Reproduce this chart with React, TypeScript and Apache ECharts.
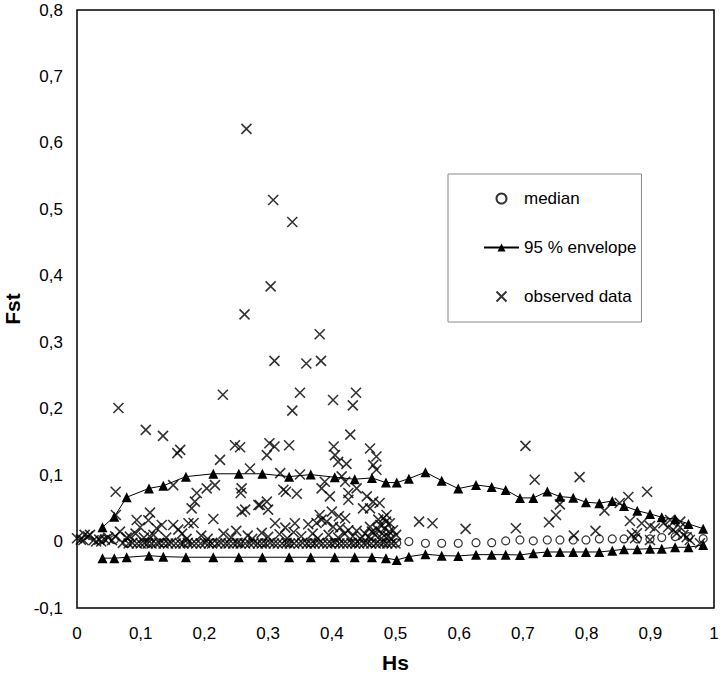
import React, { useEffect, useRef } from "react";
import * as echarts from "echarts";

const FONT = "'Liberation Sans', Arial, sans-serif";

const xTickLabels = ["0", "0,1", "0,2", "0,3", "0,4", "0,5", "0,6", "0,7", "0,8", "0,9", "1"];
const yTickLabels = ["-0,1", "0", "0,1", "0,2", "0,3", "0,4", "0,5", "0,6", "0,7", "0,8"];

const envHs = [
  0.040, 0.0586, 0.078, 0.113, 0.1355, 0.171, 0.214, 0.254, 0.291, 0.333,
  0.367, 0.4046, 0.436, 0.463, 0.485, 0.502, 0.521, 0.547, 0.5725, 0.5985,
  0.6264, 0.651, 0.673, 0.6954, 0.7163, 0.7383, 0.7582, 0.779, 0.799, 0.82,
  0.8403, 0.8587, 0.8796, 0.8995, 0.918, 0.939, 0.960, 0.983,
];
const envUpper = [
  0.0215, 0.0375, 0.0667, 0.080, 0.084, 0.0977, 0.102, 0.102, 0.102, 0.0977,
  0.1008, 0.0968, 0.0938, 0.0958, 0.0887, 0.0887, 0.0947, 0.1044, 0.0917, 0.0797,
  0.0852, 0.0822, 0.0777, 0.0657, 0.0657, 0.0752, 0.0676, 0.0661, 0.0592, 0.0577,
  0.0611, 0.0536, 0.0465, 0.0416, 0.0366, 0.0336, 0.0265, 0.0194,
];
const envLower = [
  -0.025, -0.025, -0.0237, -0.0212, -0.0227, -0.0236, -0.0236, -0.0236, -0.0236, -0.0236,
  -0.0236, -0.0236, -0.0236, -0.0236, -0.025, -0.0277, -0.0227, -0.019, -0.0212, -0.0217,
  -0.0197, -0.0197, -0.0197, -0.0202, -0.0176, -0.0157, -0.0157, -0.0157, -0.0157, -0.0157,
  -0.0137, -0.0116, -0.0116, -0.0107, -0.0107, -0.0086, -0.0086, -0.0051,
];
const medianFst = [
  0.004, 0.003, -0.002, -0.002, -0.002, -0.002, -0.002, -0.002, -0.002, -0.002,
  -0.002, -0.002, -0.002, -0.002, -0.002, -0.002, 0.0, -0.0026, -0.0026, -0.0026,
  -0.0017, -0.0017, 0.001, 0.0024, 0.001, 0.0024, 0.0024, 0.0024, 0.0024, 0.004,
  0.004, 0.004, 0.004, 0.004, 0.006, 0.0074, 0.0074, 0.0044,
];

// observed data [Hs, Fst]
const observedHigh: [number, number][] = [
  [0.266, 0.621], [0.308, 0.514], [0.338, 0.481], [0.304, 0.384], [0.263, 0.342],
  [0.381, 0.312], [0.31, 0.272], [0.36, 0.268], [0.383, 0.272], [0.229, 0.221],
  [0.35, 0.224], [0.338, 0.197], [0.402, 0.213], [0.438, 0.224], [0.433, 0.205],
  [0.429, 0.161], [0.065, 0.201], [0.108, 0.168], [0.135, 0.159], [0.162, 0.138],
  [0.248, 0.145], [0.256, 0.142], [0.302, 0.148], [0.31, 0.143], [0.333, 0.145],
  [0.403, 0.143], [0.46, 0.14], [0.298, 0.13], [0.405, 0.13], [0.41, 0.12],
  [0.423, 0.117], [0.47, 0.128], [0.465, 0.115], [0.47, 0.108], [0.1575, 0.133],
  [0.2245, 0.123], [0.2716, 0.11], [0.704, 0.144],
];
const observedMid: [number, number][] = [
  [0.319, 0.103], [0.35, 0.101], [0.384, 0.08], [0.389, 0.09], [0.397, 0.068],
  [0.324, 0.078], [0.328, 0.075], [0.345, 0.072], [0.4155, 0.098], [0.421, 0.09],
  [0.439, 0.08], [0.426, 0.073], [0.426, 0.063], [0.455, 0.068], [0.465, 0.06],
  [0.475, 0.058], [0.449, 0.05], [0.46, 0.05], [0.298, 0.06], [0.3, 0.048],
  [0.287, 0.055], [0.4, 0.045], [0.411, 0.038], [0.421, 0.035], [0.381, 0.04],
  [0.384, 0.033], [0.0607, 0.075], [0.151, 0.085], [0.2036, 0.08], [0.2166, 0.085],
  [0.188, 0.073], [0.185, 0.06], [0.18, 0.05], [0.2585, 0.08], [0.257, 0.073],
  [0.2585, 0.045], [0.264, 0.048], [0.2846, 0.055], [0.214, 0.034], [0.1146, 0.0435],
  [0.061, 0.04], [0.0937, 0.0325], [0.112, 0.032], [0.099, 0.0215], [0.125, 0.02],
  [0.133, 0.025], [0.151, 0.025], [0.159, 0.018], [0.175, 0.0275], [0.183, 0.028],
  [0.0675, 0.015], [0.0204, 0.01], [0.01, 0.0024], [0.03, 0.0], [0.035, 0.003],
  [0.044, 0.003], [0.049, 0.006], [0.083, 0.0074], [0.114, 0.008],
  [0.311, 0.0275], [0.327, 0.021], [0.342, 0.0275], [0.363, 0.026], [0.376, 0.028],
  [0.392, 0.03], [0.402, 0.022], [0.413, 0.021], [0.426, 0.017], [0.439, 0.016],
  [0.46, 0.022], [0.473, 0.033], [0.481, 0.035], [0.486, 0.04], [0.491, 0.0275],
  [0.496, 0.017], [0.501, 0.01], [0.468, 0.01], [0.472, 0.018], [0.476, 0.025],
  [0.479, 0.012], [0.483, 0.02], [0.488, 0.008], [0.49, 0.015], [0.493, 0.005],
  [0.485, 0.03], [0.478, 0.005], [0.537, 0.03], [0.558, 0.0275],
];
const observedRight: [number, number][] = [
  [0.7185, 0.093], [0.789, 0.097], [0.895, 0.075], [0.8655, 0.067], [0.852, 0.058],
  [0.828, 0.0465], [0.758, 0.056], [0.752, 0.04], [0.741, 0.029], [0.61, 0.019],
  [0.689, 0.02], [0.78, 0.009], [0.814, 0.016], [0.868, 0.031], [0.879, 0.0125],
  [0.8995, 0.0024], [0.8865, 0.0275], [0.8995, 0.0235], [0.907, 0.02], [0.9205, 0.0275],
  [0.928, 0.0215], [0.936, 0.0175], [0.9415, 0.0125], [0.947, 0.0215], [0.952, 0.01],
  [0.957, 0.0065], [0.962, 0.0024], [0.931, 0.0325], [0.947, 0.03], [0.978, -0.0026],
  [0.876, 0.005], [0.871, 0.01],
];
const observedLow: [number, number][] = [
  [0.0, 0.005], [0.006, 0.003], [0.012, 0.01], [0.017, 0.008], [0.026, 0.002],
  [0.038, 0.0], [0.055, 0.002], [0.06, 0.008], [0.072, -0.002], [0.078, 0.006],
  [0.092, 0.012], [0.105, 0.006], [0.12, 0.01], [0.14, 0.006], [0.165, 0.012],
  [0.172, 0.004], [0.195, 0.009], [0.205, 0.004], [0.23, 0.012], [0.242, 0.006],
  [0.25, 0.016], [0.268, 0.009], [0.275, 0.004], [0.29, 0.013], [0.3, 0.007],
  [0.318, 0.011], [0.33, 0.005], [0.34, 0.014], [0.352, 0.008], [0.37, 0.012],
  [0.378, 0.005], [0.395, 0.01], [0.41, 0.006], [0.42, 0.012], [0.433, 0.008],
  [0.445, 0.004], [0.452, 0.012], [0.458, 0.007], [0.463, 0.015],
  [0.081, -0.003], [0.087, -0.002], [0.094, -0.003], [0.1, -0.003], [0.106, -0.002],
  [0.111, -0.003],
  [0.117, -0.003], [0.124, -0.003], [0.129, -0.002], [0.136, -0.003], [0.143, -0.003],
  [0.148, -0.002], [0.155, -0.003], [0.162, -0.003], [0.167, -0.003], [0.174, -0.002],
  [0.181, -0.003], [0.187, -0.003], [0.194, -0.003], [0.201, -0.002], [0.207, -0.003],
  [0.212, -0.003], [0.22, -0.003], [0.226, -0.002], [0.233, -0.003], [0.238, -0.003],
  [0.245, -0.003], [0.252, -0.002], [0.257, -0.003], [0.264, -0.003], [0.271, -0.003],
  [0.277, -0.002], [0.284, -0.003], [0.29, -0.003], [0.296, -0.003], [0.303, -0.002],
  [0.309, -0.003], [0.315, -0.003], [0.322, -0.003], [0.329, -0.002], [0.334, -0.003],
  [0.341, -0.003], [0.348, -0.003], [0.354, -0.002], [0.361, -0.003], [0.367, -0.003],
  [0.373, -0.003], [0.38, -0.002], [0.386, -0.003], [0.393, -0.003], [0.399, -0.003],
  [0.405, -0.002], [0.412, -0.003], [0.418, -0.003], [0.424, -0.003], [0.431, -0.002],
  [0.437, -0.003], [0.443, -0.003], [0.45, -0.003], [0.456, -0.002], [0.462, -0.003],
  [0.469, -0.003], [0.475, -0.003], [0.481, -0.002], [0.487, -0.003], [0.494, -0.003],
  [0.5, -0.003],
];

const CROSS = "path://M0,0L10,10M10,0L0,10";

export default function App() {
  const ref = useRef<HTMLDivElement>(null);
  useEffect(() => {
    if (!ref.current) return;
    const chart = echarts.init(ref.current, undefined, { renderer: "svg" });
    const observed = [...observedLow, ...observedMid, ...observedHigh, ...observedRight];
    const tickIdx = (v: number) => Math.round(v * 10);
    chart.setOption({
      animation: false,
      backgroundColor: "#fff",
      textStyle: { fontFamily: FONT },
      grid: {
        left: 77,
        right: 6,
        top: 10,
        bottom: 73,
        show: true,
        borderColor: "#000",
        borderWidth: 1.5,
        backgroundColor: "transparent",
        containLabel: false,
        outerBoundsMode: "none",
      },
      legend: {
        orient: "vertical",
        left: 448,
        top: 174,
        width: 192,
        padding: [16, 5, 17, 35],
        itemGap: 32,
        itemWidth: 35,
        itemHeight: 10,
        borderColor: "#888",
        borderWidth: 1,
        backgroundColor: "#fff",
        textStyle: { fontFamily: FONT, fontSize: 17, color: "#000", lineHeight: 17 },
        data: ["median", "95 % envelope", "observed data"],
      },
      xAxis: {
        type: "value",
        min: 0,
        max: 1,
        interval: 0.1,
        name: "Hs",
        nameLocation: "middle",
        nameGap: 44,
        nameTextStyle: { fontFamily: FONT, fontSize: 21, fontWeight: "bold", color: "#000" },
        axisLine: { show: false },
        axisTick: { show: false },
        splitLine: { show: false },
        axisLabel: {
          fontFamily: FONT,
          fontSize: 17,
          color: "#000",
          margin: 17,
          formatter: (v: number) => xTickLabels[tickIdx(v)],
        },
      },
      yAxis: {
        type: "value",
        min: -0.1,
        max: 0.8,
        interval: 0.1,
        name: "Fst",
        nameLocation: "middle",
        nameGap: 52,
        nameTextStyle: { fontFamily: FONT, fontSize: 21, fontWeight: "bold", color: "#000" },
        axisLine: { show: false },
        axisTick: { show: false },
        splitLine: { show: false },
        axisLabel: {
          fontFamily: FONT,
          fontSize: 17,
          color: "#000",
          margin: 14,
          formatter: (v: number) => yTickLabels[tickIdx(v) + 1],
        },
      },
      series: [
        {
          name: "median",
          type: "scatter",
          symbol: "circle",
          symbolSize: 8,
          itemStyle: { color: "#fff", borderColor: "#000", borderWidth: 1.2 },
          data: envHs.map((x, i) => [x, medianFst[i]]),
          z: 2,
        },
        {
          name: "observed data",
          type: "scatter",
          symbol: CROSS,
          symbolSize: 10,
          itemStyle: { color: "none", borderColor: "#000", borderWidth: 1.6 },
          data: observed,
          z: 3,
        },
        {
          name: "95 % envelope",
          type: "line",
          symbol: "triangle",
          symbolSize: 10,
          showSymbol: true,
          itemStyle: { color: "#000" },
          lineStyle: { color: "#000", width: 1 },
          data: envHs.map((x, i) => [x, envUpper[i]]),
          z: 4,
        },
        {
          name: "95 % envelope",
          type: "line",
          symbol: "triangle",
          symbolSize: 10,
          showSymbol: true,
          itemStyle: { color: "#000" },
          lineStyle: { color: "#000", width: 1 },
          data: envHs.map((x, i) => [x, envLower[i]]),
          z: 4,
        },
      ],
    });
    return () => chart.dispose();
  }, []);
  return (
    <div
      ref={ref}
      style={{ position: "fixed", left: 0, top: 0, width: 720, height: 681, background: "#fff" }}
    />
  );
}
